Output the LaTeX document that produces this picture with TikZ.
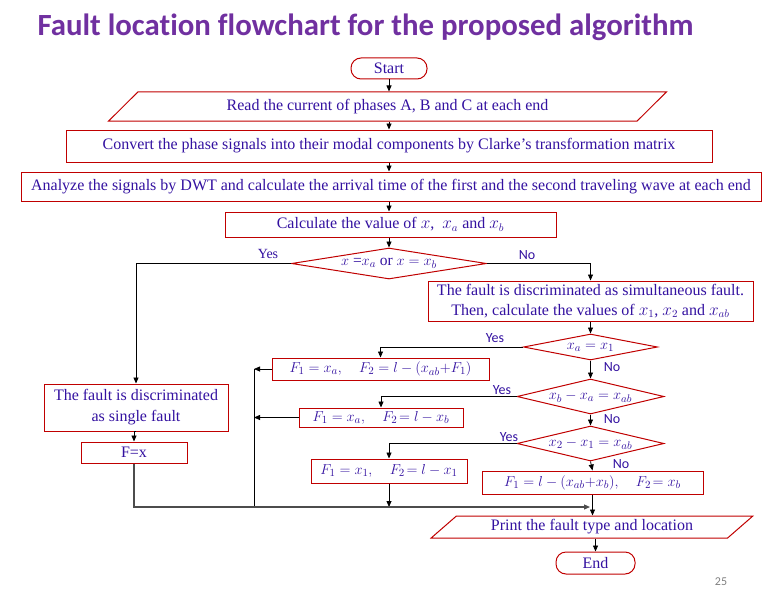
\documentclass[tikz,border=0pt]{standalone}
\usepackage{fontspec}
\setmainfont{Liberation Serif}
\newfontfamily\carlito{Carlito}
\newfontfamily\carlitott[Ligatures=NoCommon]{Carlito}
\usetikzlibrary{shapes.geometric,arrows.meta}
\definecolor{tx}{HTML}{3311A0}
\definecolor{bd}{HTML}{C00000}
\definecolor{ttl}{HTML}{7030A0}
\begin{document}
\begin{tikzpicture}[x=1pt,y=-1pt,
  base/.style={draw=bd, line width=1pt, text=tx, inner sep=0pt, anchor=center,
    font=\fontsize{16}{20}\selectfont},
  box/.style={base, rectangle},
  mbox/.style={base, rectangle, font=\fontsize{15}{18}\selectfont},
  term/.style={base, rectangle, rounded corners=10pt},
  para/.style={base, trapezium, trapezium stretches=true,
    trapezium left angle=38, trapezium right angle=142},
  dia/.style={base, diamond, aspect=6},
  dtext/.style={text=tx, inner sep=0pt, font=\fontsize{15.5}{20}\selectfont},
  arr/.style={draw=black, line width=0.8pt, -{Triangle[length=6pt,width=5pt]}},
  ln/.style={draw=black, line width=0.8pt},
  lbls/.style={text=tx, font=\carlito\fontsize{14}{16}\selectfont, inner sep=0pt},
  lblr/.style={text=tx, font=\fontsize{14}{16}\selectfont, inner sep=0pt}
]
\useasboundingbox (0,0) rectangle (783,607);

\node[text=ttl, font=\carlitott\bfseries\fontsize{30.8}{36}\selectfont, anchor=base, inner sep=0pt]
  (title) at (365.5,36) {Fault location flowchart for the proposed algorithm};

\node[term, minimum width=76, minimum height=21] (start) at (389,68.5) {Start};
\node[para, minimum width=559, minimum height=29] (p1) at (387.5,106.5)
  {Read the current of phases A, B and C at each end};
\node[box, minimum width=646, minimum height=32] (b2) at (389,146)
  {Convert the phase signals into their modal components by Clarke’s transformation matrix};
\node[box, minimum width=740, minimum height=29] (b3) at (391,186.5)
  {Analyze the signals by DWT and calculate the arrival time of the first and the second traveling wave at each end};
\node[box, minimum width=331, minimum height=25] (b4) at (390.5,224.5)
  {Calculate the value of $x$,\ \ $x_a$ and $x_b$};
\node[dia, minimum width=195, minimum height=31,
  label={[dtext]center:$x$ =$x_a$ or $x = x_b$}] (d1) at (389,263.5) {};
\node[box, minimum width=325, minimum height=40, align=center] (b5) at (590.5,301)
  {The fault is discriminated as simultaneous fault.\\Then, calculate the values of $x_1$, $x_2$ and $x_{ab}$};
\node[dia, minimum width=134, minimum height=26,
  label={[dtext]center:$x_a = x_1$}] (d2) at (590.5,347) {};
\node[mbox, minimum width=217, minimum height=22] (b6) at (380.5,369)
  {$F_1 = x_a,\quad F_2 = l - (x_{ab}{+}F_1)$};
\node[dia, minimum width=147, minimum height=35,
  label={[dtext]center:$x_b - x_a = x_{ab}$}] (d3) at (590.5,396.5) {};
\node[mbox, minimum width=164, minimum height=19] (b7) at (381,417.5)
  {$F_1 = x_a,\quad F_2\!= l - x_b$};
\node[dia, minimum width=147, minimum height=35,
  label={[dtext]center:$x_2 - x_1 = x_{ab}$}] (d4) at (590.5,443.5) {};
\node[mbox, minimum width=156, minimum height=24] (b8) at (389,471)
  {$F_1 = x_1,\quad F_2\!= l - x_1$};
\node[mbox, minimum width=221, minimum height=23] (b9) at (592.5,482.5)
  {$F_1 = l - (x_{ab}{+}x_b),\quad F_2\!= x_b$};
\node[box, minimum width=184, minimum height=47, align=center,
  font=\fontsize{16}{21}\selectfont] (single) at (136,407.5)
  {The fault is discriminated\\as single fault};
\node[box, minimum width=106, minimum height=21] (fx) at (134,452.5) {F=x};
\node[para, minimum width=322, minimum height=22] (p2) at (592,527)
  {Print the fault type and location};
\node[term, minimum width=79, minimum height=22] (end) at (595.5,563) {End};

\node[text=gray, font=\carlito\fontsize{12}{14}\selectfont, inner sep=0pt] (pg) at (721,582) {25};

% labels
\node[lblr] (y1) at (268,253.5) {Yes};
\node[lbls] (n1) at (527,255) {No};
\node[lbls] (y2) at (495,338) {Yes};
\node[lbls] (n2) at (612,367) {No};
\node[lbls] (y3) at (502,390) {Yes};
\node[lbls] (n3) at (612,419) {No};
\node[lbls] (y4) at (509,437) {Yes};
\node[lbls] (n4) at (621,464) {No};

\coordinate (vtop) at (254,369);
\coordinate (vbot) at (254,507);
\coordinate (bl) at (590,507);

% connectors
\draw[arr] (start.south) -- (start.south |- p1.north);
\draw[arr] (start.south |- p1.south) -- (start.south |- b2.north);
\draw[arr] (start.south |- b2.south) -- (start.south |- b3.north);
\draw[arr] (start.south |- b3.south) -- (start.south |- b4.north);
\draw[arr] (start.south |- b4.south) -- (d1.north);
\draw[arr] (d1.west) -| (single.north);
\draw[arr] (d1.east) -| (b5.north);
\draw[arr] (b5.south) -- (d2.north);
\draw[arr] (d2.west) -| (b6.north);
\draw[arr] (d2.south) -- (d3.north);
\draw[arr] (d3.west) -| (b7.north);
\draw[arr] (d3.south) -- (d4.north);
\draw[arr] (d4.west) -| (b8.north);
\draw[arr] (d4.south) -- (b9.north);
\draw[arr] (b6.west) -- (b6.west -| vtop);
\draw[arr] (b7.west) -- (b7.west -| vtop);
\draw[ln] (vtop) -- (vbot);
\draw[arr] (b8.south) -- (b8.south |- bl);
\draw[arr] (single.south) -- (single.south -| fx.north) -- (fx.north);
\draw[arr, draw=black!70, line width=1.2pt] (fx.south) |- (bl);
\draw[arr] (b9.south) -- (b9.south |- p2.north);
\draw[arr] (p2.south -| end.north) -- (end.north);
\end{tikzpicture}
\end{document}
